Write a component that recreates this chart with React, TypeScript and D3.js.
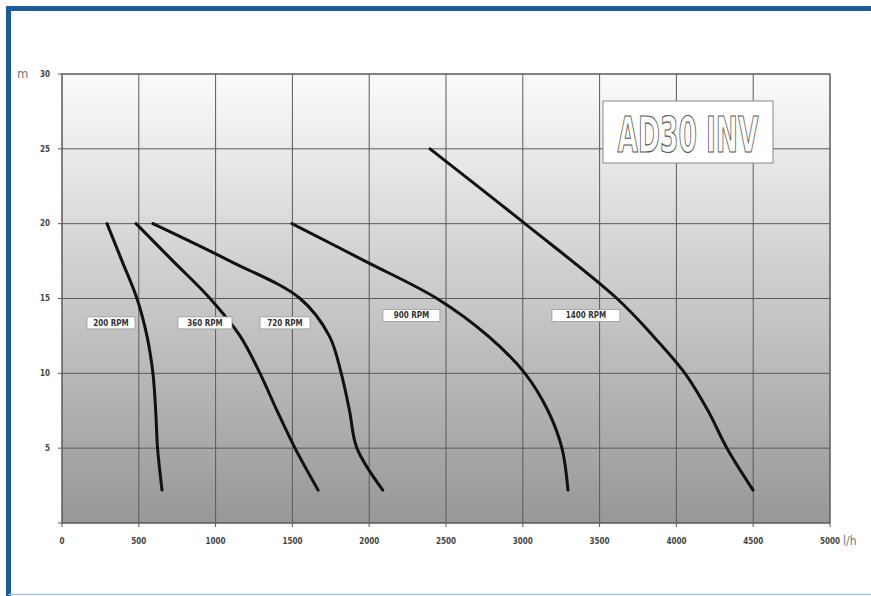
import React from "react";
import * as d3 from "d3";

const xTicks = [0, 500, 1000, 1500, 2000, 2500, 3000, 3500, 4000, 4500, 5000];
const yTicks = [5, 10, 15, 20, 25, 30];

const curve200: [number, number][] = [[293, 20], [391, 17.5], [488, 15], [553, 12.5], [592, 10], [610, 7.5], [622, 5], [651, 2.2]];
const curve360: [number, number][] = [[482, 20], [723, 17.5], [964, 15], [1159, 12.5], [1289, 10], [1400, 7.5], [1517, 5], [1667, 2.2]];
const curve720: [number, number][] = [[592, 20], [1094, 17.5], [1550, 15], [1740, 12.5], [1818, 10], [1872, 7.5], [1920, 5], [2088, 2.2]];
const curve900: [number, number][] = [[1497, 20], [1973, 17.5], [2441, 15], [2773, 12.5], [3014, 10], [3164, 7.5], [3255, 5], [3294, 2.2]];
const curve1400: [number, number][] = [[2396, 25], [3014, 20], [3613, 15], [3848, 12.5], [4056, 10], [4206, 7.5], [4329, 5], [4499, 2.2]];

const curves = [curve200, curve360, curve720, curve900, curve1400];
const labelTexts = ["200 RPM", "360 RPM", "720 RPM", "900 RPM", "1400 RPM"];
const labelX = [319, 931, 1452, 2275, 3411];
const labelY = [13.37, 13.37, 13.37, 13.87, 13.87];

const title = "AD30 INV";
const xUnit = "l/h";
const yUnit = "m";

const W = 871, H = 596;
const L = 62, R = 830, T = 74, B = 523;

export default function App() {
  const x = d3.scaleLinear().domain([0, 5000]).range([L, R]);
  const y = d3.scaleLinear().domain([0, 30]).range([B, T]);
  const line = d3.line<[number, number]>().x(d => x(d[0])).y(d => y(d[1])).curve(d3.curveCatmullRom.alpha(0.5));
  const font = "'Liberation Sans Narrow', 'DejaVu Sans Condensed', 'Liberation Sans', sans-serif";
  const labelW = [48, 54, 50, 57, 68];
  return (
    <div style={{ position: "absolute", left: 0, top: 0 }}>
      <svg width={W} height={H} style={{ display: "block" }}>
        <defs>
          <linearGradient id="bg" x1="0" y1="0" x2="0" y2="1">
            <stop offset="0" stopColor="#fbfbfb" />
            <stop offset="1" stopColor="#979797" />
          </linearGradient>
        </defs>
        <rect x={0} y={0} width={W} height={H} fill="#ffffff" />
        {/* frame */}
        <line x1={8.5} y1={8.5} x2={W} y2={8.5} stroke="#1c5c9c" strokeWidth={5} />
        <line x1={8.5} y1={6} x2={8.5} y2={H} stroke="#1c5c9c" strokeWidth={5} />
        <line x1={8.5} y1={594.5} x2={W} y2={594.5} stroke="#a9c1dc" strokeWidth={1.5} />
        {/* plot */}
        <rect x={L} y={T} width={R - L} height={B - T} fill="url(#bg)" />
        {xTicks.map(t => (
          <line key={"gx" + t} x1={x(t)} x2={x(t)} y1={T} y2={B + 4} stroke="#5a5a5a" strokeWidth={1} />
        ))}
        {[0, ...yTicks].map(t => (
          <line key={"gy" + t} x1={L - 4} x2={R} y1={y(t)} y2={y(t)} stroke="#5a5a5a" strokeWidth={1} />
        ))}
        <rect x={L} y={T} width={R - L} height={B - T} fill="none" stroke="#5a5a5a" strokeWidth={1} />
        {yTicks.map(t => (
          <text key={"ly" + t} x={50} y={y(t)} dy="0.35em" textAnchor="end" fontFamily={font} fontWeight="bold" fontSize={8} fill="#444">{t}</text>
        ))}
        {xTicks.map(t => (
          <text key={"lx" + t} x={x(t)} y={541} dy="0.35em" textAnchor="middle" fontFamily={font} fontWeight="bold" fontSize={8} fill="#444">{t}</text>
        ))}
        <text x={17} y={78} fontFamily={font} fontSize={13} fill="#777">{yUnit}</text>
        <text x={843} y={545} fontFamily={font} fontSize={12} fill="#777">{xUnit}</text>
        {/* curves */}
        {curves.map((c, i) => (
          <path key={"c" + i} d={line(c) || ""} fill="none" stroke="#111" strokeWidth={3} strokeLinecap="round" />
        ))}
        {labelTexts.map((s, i) => (
          <g key={"lb" + i}>
            <rect x={x(labelX[i]) - labelW[i] / 2} y={y(labelY[i]) - 6} width={labelW[i]} height={12} fill="#ffffff" stroke="#999" strokeWidth={0.8} />
            <text x={x(labelX[i])} y={y(labelY[i])} dy="0.35em" textAnchor="middle" fontFamily={font} fontWeight="bold" fontSize={8} fill="#333">{s}</text>
          </g>
        ))}
        {/* title */}
        <rect x={603} y={101} width={170} height={62} fill="#ffffff" stroke="#888" strokeWidth={1} />
        <text x={688} y={152} textAnchor="middle" fontFamily={font} fontWeight="bold" fontSize={50}
          textLength={141} lengthAdjust="spacingAndGlyphs" fill="#ffffff" stroke="#555" strokeWidth={1.2}>{title}</text>
      </svg>
    </div>
  );
}
